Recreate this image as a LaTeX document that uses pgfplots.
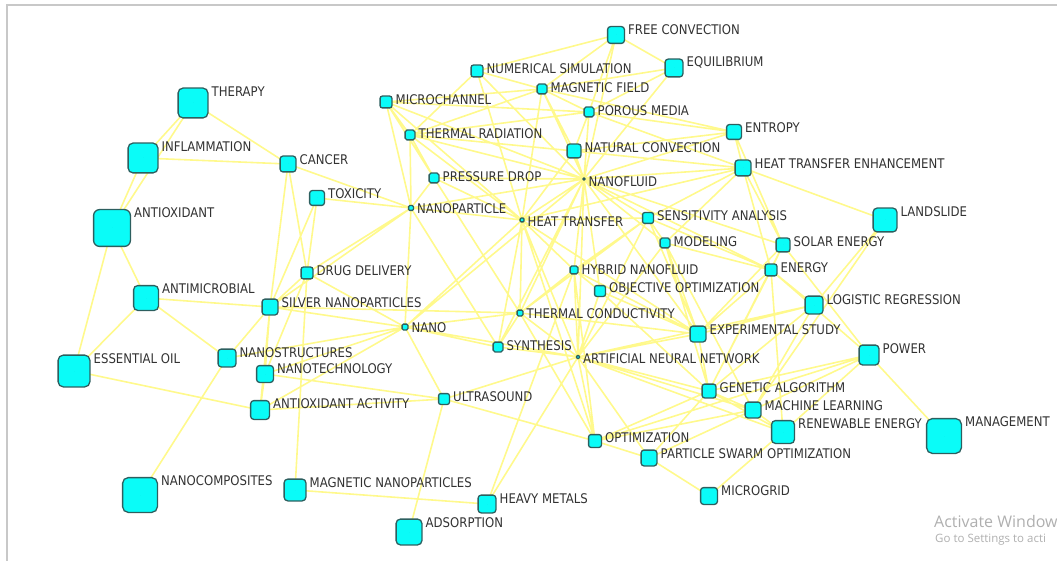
\documentclass[border=0pt]{standalone}
\usepackage{pgfplots}
\pgfplotsset{compat=1.18}
\usepackage{pgfplotstable}
\usepackage{fontspec}
\setmainfont{DejaVu Sans}[FakeStretch=0.88]
\newfontfamily\wmfont{Open Sans}
\definecolor{edgecol}{RGB}{255,248,120}
\definecolor{nodefill}{RGB}{10,252,248}
\definecolor{nodeborder}{RGB}{45,95,95}
\definecolor{labelcol}{RGB}{50,50,50}
\definecolor{framecol}{RGB}{200,200,200}
\definecolor{wmcol}{RGB}{175,175,175}

\pgfdeclareplotmark{rsq}{%
  \pgfmathsetlengthmacro\rr{0.3*\pgfplotmarksize+0.4pt}%
  \path[draw=nodeborder, fill=nodefill, line width=1.3pt, rounded corners=\rr]
    (-\pgfplotmarksize,-\pgfplotmarksize) rectangle (\pgfplotmarksize,\pgfplotmarksize);%
}

\pgfplotstableread[col sep=comma]{
x,y,s,label
616,35,18,FREE CONVECTION
674,68,19,EQUILIBRIUM
477,71,13,NUMERICAL SIMULATION
542,89,11,MAGNETIC FIELD
386,102,13,MICROCHANNEL
589,112,11,POROUS MEDIA
193,103,31,THERAPY
410,135,11,THERMAL RADIATION
734,132,16,ENTROPY
574,151,15,NATURAL CONVECTION
143,158,31,INFLAMMATION
288,164,17,CANCER
743,168,17,HEAT TRANSFER ENHANCEMENT
434,178,11,PRESSURE DROP
584,179,3,NANOFLUID
317,198,16,TOXICITY
411,208,6,NANOPARTICLE
522,220,5,HEAT TRANSFER
648,218,12,SENSITIVITY ANALYSIS
885,220,25,LANDSLIDE
112,228,38,ANTIOXIDANT
665,243,11,MODELING
783,245,15,SOLAR ENERGY
574,270,9,HYBRID NANOFLUID
307,273,13,DRUG DELIVERY
771,270,13,ENERGY
600,291,12,OBJECTIVE OPTIMIZATION
146,298,26,ANTIMICROBIAL
814,305,19,LOGISTIC REGRESSION
270,307,17,SILVER NANOPARTICLES
520,313,7,THERMAL CONDUCTIVITY
405,327,7,NANO
698,334,17,EXPERIMENTAL STUDY
498,347,11,SYNTHESIS
869,355,21,POWER
227,358,19,NANOSTRUCTURES
578,357,4,ARTIFICIAL NEURAL NETWORK
74,371,33,ESSENTIAL OIL
265,374,18,NANOTECHNOLOGY
709,391,15,GENETIC ALGORITHM
444,399,12,ULTRASOUND
260,410,20,ANTIOXIDANT ACTIVITY
753,410,17,MACHINE LEARNING
783,432,24,RENEWABLE ENERGY
944,436,36,MANAGEMENT
595,441,14,OPTIMIZATION
649,458,17,PARTICLE SWARM OPTIMIZATION
140,495,36,NANOCOMPOSITES
295,490,23,MAGNETIC NANOPARTICLES
709,496,18,MICROGRID
487,504,19,HEAVY METALS
409,532,27,ADSORPTION
}\kwtable

\begin{document}
\begin{tikzpicture}
\begin{axis}[
  width=1057pt, height=561pt, scale only axis,
  xmin=0, xmax=1057, ymin=0, ymax=561, y dir=reverse,
  enlargelimits=false, axis lines=none, clip=false,
]
% edges
\addplot[edgecol, line width=1.6pt, opacity=0.85, unbounded coords=jump, mark=none] coordinates {
(193,103) (143,158) (nan,nan)
(193,103) (288,164) (nan,nan)
(193,103) (112,228) (nan,nan)
(143,158) (288,164) (nan,nan)
(143,158) (112,228) (nan,nan)
(112,228) (146,298) (nan,nan)
(112,228) (74,371) (nan,nan)
(146,298) (74,371) (nan,nan)
(146,298) (270,307) (nan,nan)
(146,298) (227,358) (nan,nan)
(74,371) (260,410) (nan,nan)
(227,358) (140,495) (nan,nan)
(227,358) (270,307) (nan,nan)
(227,358) (405,327) (nan,nan)
(288,164) (411,208) (nan,nan)
(288,164) (270,307) (nan,nan)
(288,164) (307,273) (nan,nan)
(317,198) (307,273) (nan,nan)
(317,198) (270,307) (nan,nan)
(317,198) (411,208) (nan,nan)
(307,273) (411,208) (nan,nan)
(307,273) (405,327) (nan,nan)
(307,273) (270,307) (nan,nan)
(307,273) (265,374) (nan,nan)
(307,273) (295,490) (nan,nan)
(270,307) (405,327) (nan,nan)
(270,307) (265,374) (nan,nan)
(270,307) (260,410) (nan,nan)
(270,307) (411,208) (nan,nan)
(270,307) (520,313) (nan,nan)
(265,374) (405,327) (nan,nan)
(265,374) (444,399) (nan,nan)
(265,374) (260,410) (nan,nan)
(260,410) (444,399) (nan,nan)
(260,410) (405,327) (nan,nan)
(295,490) (487,504) (nan,nan)
(444,399) (409,532) (nan,nan)
(405,327) (444,399) (nan,nan)
(405,327) (411,208) (nan,nan)
(405,327) (520,313) (nan,nan)
(405,327) (522,220) (nan,nan)
(405,327) (578,357) (nan,nan)
(405,327) (498,347) (nan,nan)
(405,327) (584,179) (nan,nan)
(498,347) (578,357) (nan,nan)
(498,347) (520,313) (nan,nan)
(498,347) (411,208) (nan,nan)
(498,347) (522,220) (nan,nan)
(444,399) (595,441) (nan,nan)
(444,399) (578,357) (nan,nan)
(487,504) (578,357) (nan,nan)
(487,504) (574,270) (nan,nan)
(386,102) (410,135) (nan,nan)
(386,102) (522,220) (nan,nan)
(386,102) (584,179) (nan,nan)
(386,102) (542,89) (nan,nan)
(386,102) (434,178) (nan,nan)
(386,102) (411,208) (nan,nan)
(386,102) (589,112) (nan,nan)
(477,71) (616,35) (nan,nan)
(477,71) (584,179) (nan,nan)
(477,71) (410,135) (nan,nan)
(477,71) (542,89) (nan,nan)
(477,71) (522,220) (nan,nan)
(616,35) (542,89) (nan,nan)
(616,35) (584,179) (nan,nan)
(616,35) (589,112) (nan,nan)
(616,35) (674,68) (nan,nan)
(674,68) (542,89) (nan,nan)
(674,68) (584,179) (nan,nan)
(674,68) (589,112) (nan,nan)
(542,89) (584,179) (nan,nan)
(542,89) (410,135) (nan,nan)
(542,89) (522,220) (nan,nan)
(542,89) (574,151) (nan,nan)
(542,89) (589,112) (nan,nan)
(542,89) (734,132) (nan,nan)
(589,112) (584,179) (nan,nan)
(589,112) (734,132) (nan,nan)
(589,112) (574,151) (nan,nan)
(589,112) (410,135) (nan,nan)
(589,112) (743,168) (nan,nan)
(410,135) (584,179) (nan,nan)
(410,135) (522,220) (nan,nan)
(410,135) (574,151) (nan,nan)
(410,135) (434,178) (nan,nan)
(410,135) (411,208) (nan,nan)
(574,151) (584,179) (nan,nan)
(574,151) (734,132) (nan,nan)
(574,151) (743,168) (nan,nan)
(574,151) (522,220) (nan,nan)
(434,178) (584,179) (nan,nan)
(434,178) (522,220) (nan,nan)
(434,178) (411,208) (nan,nan)
(434,178) (520,313) (nan,nan)
(584,179) (522,220) (nan,nan)
(584,179) (574,270) (nan,nan)
(584,179) (520,313) (nan,nan)
(584,179) (578,357) (nan,nan)
(584,179) (648,218) (nan,nan)
(584,179) (665,243) (nan,nan)
(584,179) (734,132) (nan,nan)
(584,179) (743,168) (nan,nan)
(584,179) (783,245) (nan,nan)
(584,179) (771,270) (nan,nan)
(584,179) (698,334) (nan,nan)
(584,179) (600,291) (nan,nan)
(584,179) (498,347) (nan,nan)
(584,179) (411,208) (nan,nan)
(522,220) (574,270) (nan,nan)
(522,220) (520,313) (nan,nan)
(522,220) (578,357) (nan,nan)
(522,220) (698,334) (nan,nan)
(522,220) (648,218) (nan,nan)
(522,220) (743,168) (nan,nan)
(522,220) (595,441) (nan,nan)
(522,220) (411,208) (nan,nan)
(743,168) (734,132) (nan,nan)
(743,168) (648,218) (nan,nan)
(743,168) (783,245) (nan,nan)
(743,168) (771,270) (nan,nan)
(743,168) (885,220) (nan,nan)
(743,168) (665,243) (nan,nan)
(734,132) (783,245) (nan,nan)
(648,218) (665,243) (nan,nan)
(648,218) (574,270) (nan,nan)
(648,218) (520,313) (nan,nan)
(648,218) (771,270) (nan,nan)
(648,218) (578,357) (nan,nan)
(648,218) (698,334) (nan,nan)
(665,243) (771,270) (nan,nan)
(665,243) (578,357) (nan,nan)
(665,243) (698,334) (nan,nan)
(665,243) (709,391) (nan,nan)
(665,243) (753,410) (nan,nan)
(783,245) (771,270) (nan,nan)
(783,245) (698,334) (nan,nan)
(783,245) (869,355) (nan,nan)
(783,245) (709,391) (nan,nan)
(885,220) (814,305) (nan,nan)
(885,220) (753,410) (nan,nan)
(771,270) (869,355) (nan,nan)
(771,270) (698,334) (nan,nan)
(771,270) (709,391) (nan,nan)
(771,270) (783,432) (nan,nan)
(771,270) (814,305) (nan,nan)
(814,305) (753,410) (nan,nan)
(814,305) (709,391) (nan,nan)
(814,305) (698,334) (nan,nan)
(814,305) (578,357) (nan,nan)
(869,355) (944,436) (nan,nan)
(869,355) (709,391) (nan,nan)
(869,355) (753,410) (nan,nan)
(869,355) (783,432) (nan,nan)
(869,355) (595,441) (nan,nan)
(698,334) (578,357) (nan,nan)
(698,334) (520,313) (nan,nan)
(698,334) (709,391) (nan,nan)
(698,334) (574,270) (nan,nan)
(578,357) (709,391) (nan,nan)
(578,357) (753,410) (nan,nan)
(578,357) (595,441) (nan,nan)
(578,357) (649,458) (nan,nan)
(578,357) (520,313) (nan,nan)
(578,357) (574,270) (nan,nan)
(578,357) (600,291) (nan,nan)
(578,357) (783,432) (nan,nan)
(709,391) (753,410) (nan,nan)
(709,391) (649,458) (nan,nan)
(709,391) (595,441) (nan,nan)
(709,391) (783,432) (nan,nan)
(709,391) (600,291) (nan,nan)
(753,410) (783,432) (nan,nan)
(753,410) (595,441) (nan,nan)
(753,410) (649,458) (nan,nan)
(595,441) (649,458) (nan,nan)
(649,458) (709,496) (nan,nan)
(709,496) (783,432) (nan,nan)
(574,270) (600,291) (nan,nan)
(574,270) (520,313) (nan,nan)
(600,291) (698,334) (nan,nan)
(520,313) (595,441) (nan,nan)
(574,270) (595,441) (nan,nan)
};
% frame
\addplot[framecol, line width=1.6pt, mark=none] coordinates {(7,561) (7,5) (1057,5)};
% nodes
\addplot[scatter, only marks, mark=rsq, point meta=\thisrow{s},
  visualization depends on={\thisrow{s}/2-0.6 \as \hs},
  scatter/use mapped color={draw=nodeborder, fill=nodefill},
  scatter/@pre marker code/.append style={/tikz/mark size=\hs},
] table[x=x, y=y] {\kwtable};
% labels
\addplot[only marks, mark=*, mark size=0pt, mark options={draw=none, fill=none},
  nodes near coords, point meta=explicit symbolic,
  visualization depends on={\thisrow{s} \as \sz},
  nodes near coords style={anchor=west, inner sep=0pt, text=labelcol,
    font=\fontsize{13.3}{14}\selectfont,
    xshift={(0.5*\sz+3)*1pt}, yshift={(0.5*\sz-4)*1pt}},
] table[x=x, y=y, meta=label] {\kwtable};
\node[anchor=west, inner sep=0pt, text=wmcol, font=\wmfont\fontsize{16}{18}\selectfont] at (axis cs:934,521) {Activate Window};
\node[anchor=west, inner sep=0pt, text=wmcol, font=\wmfont\fontsize{11.5}{13}\selectfont] at (axis cs:935,540) {Go to Settings to acti};
\end{axis}
\pgfresetboundingbox
\useasboundingbox (current axis.south west) rectangle (current axis.north east);
\end{tikzpicture}
\end{document}
